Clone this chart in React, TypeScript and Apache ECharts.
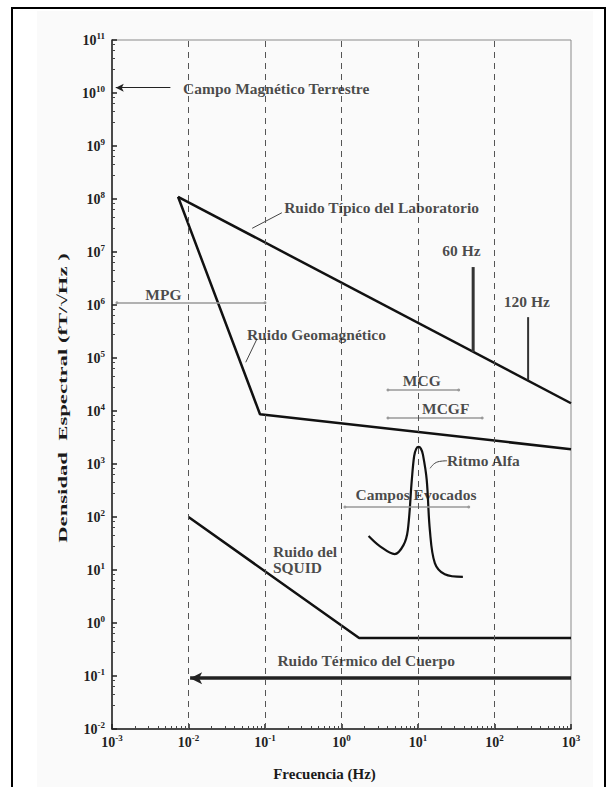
import React, { useEffect, useRef } from "react";
import * as echarts from "echarts";

// ---- data (frequency Hz, spectral density fT/√Hz) ----
const xRange = [0.001, 1000];
const yRange = [0.01, 1e11];
const gridLinesX = [0.01, 0.1, 1, 10, 100];
const labNoise = [[0.0073, 1.1e8], [1000, 1.4e4]];
const geoNoise = [[0.0073, 1.1e8], [0.086, 8.7e3], [1000, 1.9e3]];
const squidNoise = [[0.01, 100], [1.7, 0.52], [1000, 0.52]];
const alphaRhythm = [
  [2.26, 43.6], [3.16, 28.2], [4.97, 20], [6.46, 29.5], [7.35, 56], [8.3, 500],
  [8.9, 1400], [9.5, 1950], [10.2, 2100], [10.9, 1950], [11.6, 1500], [13.0, 500], [14.3, 56],
  [16.6, 13.5], [22.4, 8.3], [38.6, 7.4],
];
const spike60 = [[52.6, 1.3e5], [52.6, 5.2e6]];
const spike120 = [[275, 3.8e4], [275, 5.9e5]];
const labLeader = [[0.068, 2.8e7], [0.166, 5.5e7]];
const geoLeader = [[0.056, 8.3e4], [0.0786, 2.3e5]];
const alphaLeader = [[14.4, 830], [18.2, 1100], [24, 1150]];
// ranges: [fStart, fEnd, level]
const earthField = [0.0058, 0.00112, 1.26e10];
const bodyThermal = [1000, 0.0105, 0.091];
const mpgRange = [0.00116, 0.1, 1.1e6];
const mcgRange = [4.05, 34, 2.5e4];
const mcgfRange = [4.05, 69, 7.4e3];
const evokedRange = [1.11, 46, 155];
// annotations: text, f, level
const leftLabels = [
  ["Campo Magnético Terrestre", 0.0085, 1.2e10],
  ["Ruido Típico del Laboratorio", 0.178, 6.8e7],
  ["Ruido Geomagnético", 0.058, 2.8e5],
  ["Ritmo Alfa", 24, 1.15e3],
  ["Ruido del\nSQUID", 0.127, 16],
];
const centerLabels = [
  ["60 Hz", 37, 1.05e7],
  ["120 Hz", 265, 1.15e6],
  ["MPG", 0.0047, 1.55e6],
  ["MCG", 11.2, 3.8e4],
  ["MCGF", 23, 1.1e4],
  ["Campos Evocados", 9.4, 270],
  ["Ruido Térmico del Cuerpo", 2.1, 0.2],
];
const xTitle = "Frecuencia (Hz)";
const yTitle = "Densidad  Espectral (fT/√Hz )";

const FONT = "Liberation Serif";

function rangeLine(r: number[], color: string, width: number, s1: string, s2: string, size: number[]) {
  return [
    { coord: [r[0], r[2]], symbol: s1, symbolSize: size, lineStyle: { color, width, type: "solid" }, itemStyle: { color } },
    { coord: [r[1], r[2]], symbol: s2, symbolSize: size, itemStyle: { color } },
  ];
}

export default function App() {
  const ref = useRef<HTMLDivElement>(null);
  useEffect(() => {
    document.body.style.margin = "0";
    const chart = echarts.init(ref.current!, null, { renderer: "svg" });
    const supLabel = (v: number) => {
      const e = Math.round(Math.log10(v));
      return `{b|10}{s|${e}}`;
    };
    const rich = {
      b: { fontFamily: FONT, fontSize: 14, color: "#222", lineHeight: 18, fontWeight: "bold" },
      s: { fontFamily: FONT, fontSize: 9, color: "#222", lineHeight: 9, verticalAlign: "top", fontWeight: "bold" },
    };
    const txt = { fontFamily: FONT, fontSize: 15.5, color: "#1a1a1a", fontWeight: "bold" };
    const lineS = (data: number[][], color: string, width: number, smooth: any = false) => ({
      type: "line", data, symbol: "none", smooth, silent: true,
      lineStyle: { color, width }, z: 3,
    });
    chart.setOption({
      animation: false,
      backgroundColor: "#ffffff",
      graphic: [
        { type: "rect", z: -10, shape: { x: 37, y: 11, width: 556, height: 780 }, style: { fill: "#fafafa" } },
        { type: "rect", z: 100, shape: { x: 12, y: 8, width: 593, height: 800 }, style: { fill: "none", stroke: "#000", lineWidth: 2 } },
        {
          type: "text", x: 62, y: 398, rotation: Math.PI / 2, scaleX: 1.68, z: 50,
          style: { text: yTitle, font: `bold 13.5px "${FONT}"`, fill: "#1a1a1a", align: "center", verticalAlign: "middle" },
        },
      ],
      grid: { left: 112, right: 45, top: 40, bottom: 58, show: true, borderColor: "#8a8a8a", borderWidth: 1, backgroundColor: "transparent" },
      xAxis: {
        type: "log", logBase: 10, min: xRange[0], max: xRange[1], interval: 1,
        name: xTitle, nameLocation: "middle", nameGap: 37,
        nameTextStyle: { ...txt, fontSize: 15, padding: [0, 34, 0, 0] },
        axisLine: { lineStyle: { color: "#222", width: 1.5 } },
        axisTick: { inside: true, length: 5, lineStyle: { color: "#222", width: 1.5 } },
        minorTick: { show: true, splitNumber: 9, length: 3, lineStyle: { color: "#444" } },
        splitLine: { show: false },
        axisLabel: { formatter: supLabel, rich, margin: 4 },
      },
      yAxis: {
        type: "log", logBase: 10, min: yRange[0], max: yRange[1], interval: 1,
        axisLine: { lineStyle: { color: "#222", width: 1.5 } },
        axisTick: { inside: true, length: 5, lineStyle: { color: "#222", width: 1.5 } },
        minorTick: { show: true, splitNumber: 5, length: 3, lineStyle: { color: "#444" } },
        splitLine: { show: false },
        axisLabel: { formatter: supLabel, rich, margin: 7 },
      },
      series: [
        {
          type: "line", data: [], symbol: "none", silent: true,
          markLine: {
            silent: true, animation: false, symbol: ["none", "none"], label: { show: false },
            lineStyle: { color: "#555", width: 1, type: [6, 5] },
            data: gridLinesX.map((v) => ({ xAxis: v })),
          },
        },
        {
          type: "line", data: [], symbol: "none", silent: true,
          markLine: {
            silent: true, animation: false, label: { show: false }, z: 4,
            data: [
              rangeLine(earthField, "#222", 1, "none", "arrow", [6, 8]),
              rangeLine(bodyThermal, "#222", 3.5, "none", "arrow", [9, 12]),
              rangeLine(mpgRange, "#999", 1.6, "circle", "circle", [3, 3]),
              rangeLine(mcgRange, "#999", 1.6, "circle", "circle", [3, 3]),
              rangeLine(mcgfRange, "#999", 1.6, "circle", "circle", [3, 3]),
              rangeLine(evokedRange, "#999", 1.6, "circle", "circle", [3, 3]),
            ],
          },
        },
        lineS(labNoise, "#111", 2.5),
        lineS(geoNoise, "#111", 2.5),
        lineS(squidNoise, "#111", 2.5),
        lineS(alphaRhythm, "#111", 2.2, 0.35),
        lineS(spike60, "#333", 3),
        lineS(spike120, "#333", 2),
        lineS(labLeader, "#444", 1),
        lineS(geoLeader, "#444", 1),
        lineS(alphaLeader, "#444", 1, 0.5),
        {
          type: "scatter", symbolSize: 0, silent: true, z: 5,
          data: leftLabels.map((l) => ({ name: l[0], value: [l[1], l[2]] })),
          label: { show: true, position: "right", distance: 0, formatter: "{b}", ...txt, lineHeight: 16, align: "left" },
        },
        {
          type: "scatter", symbolSize: 0, silent: true, z: 5,
          data: centerLabels.map((l) => ({ name: l[0], value: [l[1], l[2]] })),
          label: { show: true, position: "inside", formatter: "{b}", ...txt },
        },
      ],
    });
    return () => chart.dispose();
  }, []);
  return <div ref={ref} style={{ width: 616, height: 787 }} />;
}
